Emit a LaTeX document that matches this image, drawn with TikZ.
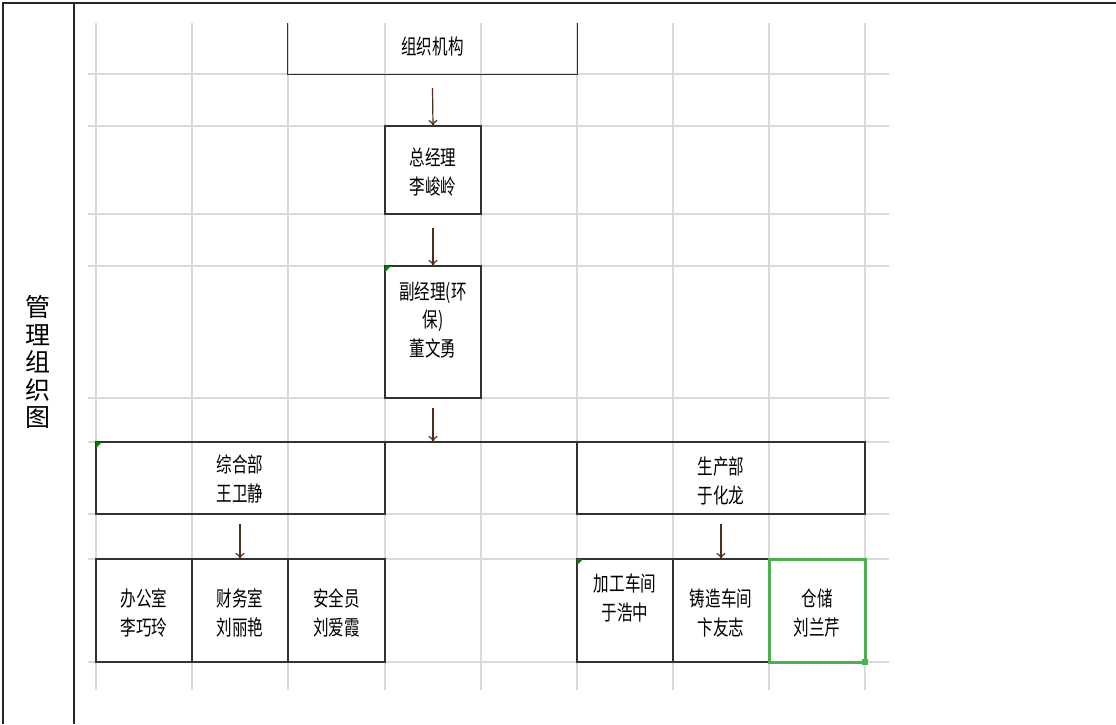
\documentclass[tikz,border=0pt]{standalone}
\usepackage{fontspec}
\newfontfamily\cjk{Noto Sans CJK SC}
\newfontfamily\cjknarrow[FakeStretch=0.74]{Noto Sans CJK SC}
\usetikzlibrary{arrows.meta}
\definecolor{gridc}{RGB}{218,218,218}
\definecolor{boxc}{RGB}{50,50,50}
\definecolor{arrc}{RGB}{80,45,30}
\definecolor{selc}{RGB}{76,175,80}
\definecolor{markc}{RGB}{0,128,0}
\tikzset{
  gridline/.style={draw=gridc, line width=1.4pt},
  frame/.style={draw=black!85, line width=1.8pt},
  box/.style={draw=boxc, line width=1.3pt, inner sep=0pt, outer sep=0pt},
  txt/.style={inner sep=0pt, align=center, font=\cjknarrow\fontsize{21}{28.5}\selectfont},
  arr/.style={draw=arrc, line width=1.2pt, -{To[length=6pt,width=9pt]}},
  cornermark/.style={fill=markc, draw=none},
}
\begin{document}
\begin{tikzpicture}[x=1pt,y=-1pt]
\useasboundingbox (0,0) rectangle (1116,724);
\fill[white] (0,0) rectangle (1116,724);
% grid
\foreach \gx in {96,192,288,385,481,577,673,769,865} {\draw[gridline] (\gx,23) -- (\gx,690);}
\foreach \gy in {74,126,214,266,398,442,514,559,662} {\draw[gridline] (88,\gy) -- (889,\gy);}
% frame
\draw[frame] (3,724) -- (3,3) -- (1116,3);
\draw[frame, line width=1.5pt] (74,3) -- (74,724);
\node[inner sep=0pt, align=center, font=\cjk\fontsize{25}{27.5}\selectfont] (title) at (38,362) {管\\理\\组\\织\\图};
% boxes
\node[inner sep=0pt, minimum width=289pt, minimum height=51pt] (org) at (432.5,48.5) {};
\draw[box] (org.north west) |- (org.south east) -- (org.north east);
\node[txt] (orgt) at (432.5,47) {组织机构};
\node[box, minimum width=96pt, minimum height=88pt] (zjl) at (433,170) {};
\node[txt] (zjlt) at (433,172) {总经理\\李峻岭};
\node[box, minimum width=96pt, minimum height=132pt] (fjl) at (433,332) {};
\node[txt] (fjlt) at (433,320) {副经理(环\\保)\\董文勇};
\node[box, minimum width=289pt, minimum height=72pt] (zhb) at (240.5,478) {};
\node[txt] (zhbt) at (240,479) {综合部\\王卫静};
\node[box, minimum width=288pt, minimum height=72pt] (scb) at (721,478) {};
\node[txt] (scbt) at (721,481) {生产部\\于化龙};
\draw[box] (zhb.north east) -- (scb.north west);
\coordinate (junc) at (433,442);
\node[box, minimum width=96pt, minimum height=103pt] (bgs) at (144,610.5) {};
\node[txt] (bgst) at (144,613) {办公室\\李巧玲};
\node[box, minimum width=96pt, minimum height=103pt] (cws) at (240,610.5) {};
\node[txt] (cwst) at (240,613) {财务室\\刘丽艳};
\node[box, minimum width=97pt, minimum height=103pt] (aqy) at (336.5,610.5) {};
\node[txt] (aqyt) at (336.5,613) {安全员\\刘爱霞};
\node[box, minimum width=96pt, minimum height=103pt] (jg) at (625,610.5) {};
\node[txt] (jgt) at (625,598) {加工车间\\于浩中};
\node[box, minimum width=96pt, minimum height=103pt] (zz) at (721,610.5) {};
\node[txt] (zzt) at (721,613) {铸造车间\\卞友志};
\node[box, minimum width=96pt, minimum height=103pt] (cc) at (817,610.5) {};
\node[txt] (cct) at (817,613) {仓储\\刘兰芹};
% selection border
\draw[selc, line width=3pt] (cc.north west) rectangle (cc.south east);
\fill[selc] ([xshift=-3pt,yshift=-3pt]cc.south east) rectangle ([xshift=3pt,yshift=3pt]cc.south east);
% green corner marks
\fill[cornermark] (fjl.north west) -- ++(6,0) -- ++(-6,6) -- cycle;
\fill[cornermark] (zhb.north west) -- ++(6,0) -- ++(-6,6) -- cycle;
\fill[cornermark] (jg.north west) -- ++(6,0) -- ++(-6,6) -- cycle;
% arrows
\draw[arr] ([yshift=-14pt]org.south) -- (zjl.north);
\draw[arr] ([yshift=-14pt]zjl.south) -- (fjl.north);
\draw[arr] ([yshift=-10pt]fjl.south) -- (junc);
\draw[arr] ([yshift=-10pt,xshift=-0.5pt]zhb.south) -- (cws.north);
\draw[arr] ([yshift=-10pt]scb.south) -- (zz.north);
\end{tikzpicture}
\end{document}
